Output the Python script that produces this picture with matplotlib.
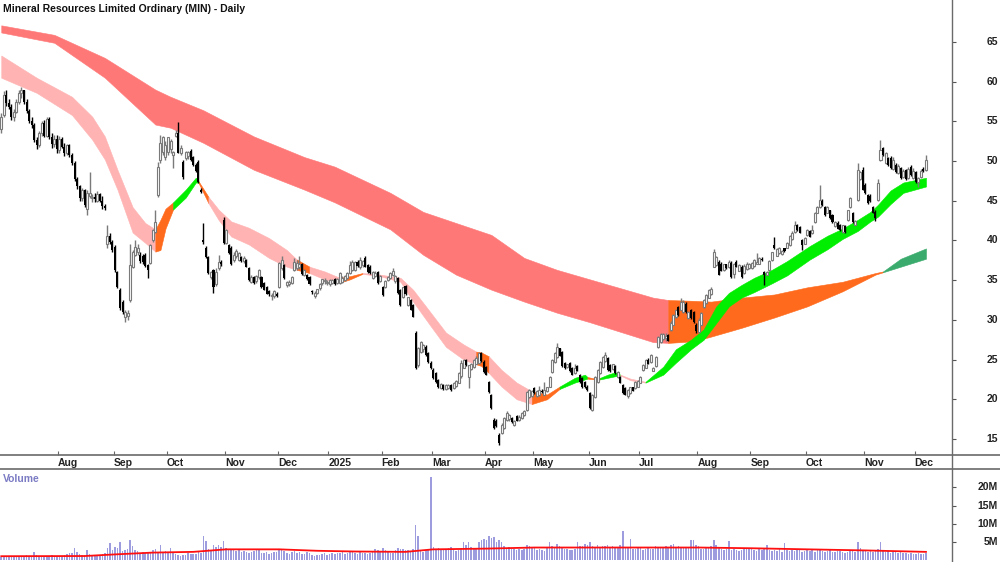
import numpy as np
import pandas as pd
import matplotlib
matplotlib.use('Agg')
import matplotlib.pyplot as plt
from matplotlib.lines import Line2D

plt.rcParams['font.family'] = ['Liberation Sans', 'DejaVu Sans']

title = 'Mineral Resources Limited Ordinary (MIN) - Daily'

# ASX trading calendar
asx_holidays = ['2024-12-25', '2024-12-26', '2025-01-01', '2025-01-27',
                '2025-04-18', '2025-04-21', '2025-04-25', '2025-06-09']
dates = pd.bdate_range('2024-07-01', '2025-12-05')
dates = dates[~dates.isin(pd.to_datetime(asx_holidays))]

# daily candles (open, high, low, close), one list per month
jul24 = [(54.0, 56.0, 53.5, 55.5), (55.8, 58.8, 55.5, 58.3), (58.3, 59.0, 57.0, 57.3), (57.3, 57.8, 56.5, 56.8),
         (56.8, 57.2, 55.2, 55.5), (55.5, 56.5, 55.0, 56.2), (56.2, 57.8, 56.0, 57.5), (57.5, 59.0, 57.2, 58.6),
         (58.6, 59.3, 58.0, 58.9), (58.9, 59.0, 57.2, 57.5), (57.5, 57.8, 56.0, 56.3), (56.3, 56.6, 54.8, 55.0),
         (55.0, 55.5, 54.2, 54.6), (54.6, 54.8, 52.4, 52.6), (52.6, 53.0, 51.5, 52.0), (52.0, 53.8, 51.8, 53.6),
         (53.6, 55.0, 53.2, 54.8), (54.8, 55.2, 53.0, 53.2), (53.2, 55.6, 53.0, 55.3), (55.3, 55.5, 52.8, 53.0),
         (53.0, 53.5, 51.6, 52.2), (52.2, 53.3, 51.8, 52.8), (52.8, 53.3, 51.0, 51.5)]
aug24 = [(51.4, 53.2, 51.0, 52.8), (52.8, 53.0, 51.6, 51.8), (51.8, 52.3, 50.6, 51.0), (51.0, 52.2, 50.8, 52.0),
         (52.0, 52.2, 50.5, 50.8), (50.8, 51.0, 49.5, 49.8), (49.8, 50.0, 47.5, 47.8), (47.8, 48.0, 46.5, 46.8),
         (46.8, 47.0, 45.0, 45.3), (45.3, 46.6, 45.0, 46.3), (46.3, 46.5, 44.2, 44.5), (44.0, 46.3, 43.2, 46.0),
         (45.6, 48.6, 45.3, 46.0), (45.3, 45.8, 44.8, 45.5), (45.5, 46.0, 44.9, 45.2), (45.0, 46.2, 44.8, 45.8),
         (45.8, 46.0, 44.8, 45.0), (45.0, 45.6, 44.0, 44.3), (44.3, 44.6, 43.8, 44.1), (39.5, 42.0, 39.0, 40.6),
         (40.6, 41.0, 39.5, 39.8), (39.8, 40.0, 38.5, 38.8)]
sep24 = [(39.2, 39.4, 36.0, 36.3), (36.0, 36.2, 34.0, 34.2), (33.8, 34.0, 31.3, 31.5), (32.3, 32.5, 30.8, 31.0),
         (30.4, 31.2, 29.7, 31.0), (30.5, 31.3, 30.0, 30.9), (32.5, 39.5, 32.3, 36.9), (36.7, 38.8, 36.5, 38.5),
         (38.2, 40.0, 38.0, 39.2), (38.6, 39.6, 38.2, 39.0), (38.2, 38.5, 37.2, 37.4), (38.0, 38.3, 37.0, 37.3),
         (38.2, 38.4, 36.6, 36.8), (36.9, 37.0, 35.3, 36.3), (37.2, 39.6, 37.0, 39.4), (40.1, 41.5, 39.8, 41.3),
         (41.1, 43.8, 41.0, 42.3), (45.7, 49.9, 45.5, 49.3), (50.1, 53.3, 49.8, 52.3), (51.1, 53.2, 50.8, 53.0),
         (50.5, 52.5, 50.2, 52.0)]
oct24 = [(51.1, 53.0, 50.8, 53.0), (51.5, 52.8, 51.0, 52.5), (50.8, 51.3, 49.1, 51.1), (53.2, 53.9, 53.0, 53.5),
         (53.5, 54.9, 51.0, 51.0), (51.0, 52.0, 50.8, 51.6), (49.9, 50.2, 47.8, 48.0), (50.4, 51.3, 50.2, 51.1),
         (50.6, 51.3, 50.3, 51.1), (51.3, 51.5, 50.0, 50.1), (50.5, 50.7, 49.4, 49.5), (49.5, 49.8, 48.6, 48.7),
         (49.9, 50.2, 47.3, 47.4), (46.4, 46.6, 46.0, 46.1), (40.0, 42.2, 39.6, 39.8), (39.1, 39.3, 37.8, 37.9),
         (37.9, 38.0, 35.8, 35.9), (35.4, 36.2, 35.2, 36.0), (36.3, 36.4, 33.4, 34.1), (34.5, 36.5, 34.3, 36.0),
         (36.5, 38.2, 36.3, 37.3), (37.3, 37.5, 36.8, 37.0), (42.6, 43.0, 39.5, 39.7)]
nov24 = [(39.7, 41.5, 39.5, 41.3), (39.4, 39.6, 38.3, 38.4), (39.1, 39.3, 36.9, 37.0), (37.5, 38.5, 37.3, 38.2),
         (38.0, 38.9, 37.8, 38.7), (37.6, 38.6, 37.4, 38.4), (37.9, 38.0, 37.3, 37.4), (37.4, 38.0, 37.2, 37.8),
         (37.5, 37.7, 36.6, 36.7), (36.5, 36.6, 34.9, 35.0), (34.8, 35.6, 34.6, 35.4), (35.4, 35.5, 34.5, 34.6),
         (34.9, 35.7, 34.7, 35.5), (35.4, 36.4, 35.2, 36.3), (35.4, 35.5, 34.0, 34.1), (34.6, 34.8, 33.7, 33.8),
         (34.1, 34.3, 33.2, 33.3), (33.6, 33.8, 33.0, 33.2), (33.0, 33.4, 32.5, 33.1), (33.0, 33.8, 32.8, 33.6),
         (33.3, 33.5, 32.9, 33.0)]
dec24 = [(34.1, 37.3, 34.0, 37.2), (36.5, 38.0, 36.3, 37.5), (36.9, 37.0, 35.2, 35.3), (34.4, 34.9, 34.2, 34.8),
         (34.5, 35.0, 34.3, 34.8), (34.6, 35.5, 34.5, 35.4), (36.3, 37.8, 36.2, 37.3), (36.5, 37.5, 36.3, 37.2),
         (36.6, 38.0, 36.4, 37.0), (37.0, 37.2, 35.7, 35.8), (35.6, 36.4, 35.5, 36.3), (35.7, 35.8, 35.0, 35.1),
         (35.4, 35.5, 34.4, 34.5), (33.6, 33.7, 33.3, 33.5), (33.0, 33.6, 32.8, 33.4), (33.4, 33.9, 33.2, 33.9),
         (34.0, 34.6, 33.8, 34.5), (34.6, 35.2, 34.4, 35.2), (34.9, 35.3, 34.5, 35.0), (34.6, 35.0, 34.4, 34.8)]
jan25 = [(34.5, 35.2, 34.3, 35.0), (34.6, 35.1, 34.5, 35.0), (35.2, 35.3, 34.4, 34.5), (34.6, 35.3, 34.5, 35.2),
         (34.6, 36.0, 34.5, 35.9), (34.8, 35.5, 34.6, 35.3), (35.0, 35.6, 34.9, 35.5), (35.3, 36.0, 35.2, 35.9),
         (35.9, 37.4, 35.8, 36.9), (36.3, 37.5, 36.1, 37.3), (36.3, 37.4, 36.1, 37.3), (37.3, 37.5, 36.6, 36.8),
         (36.6, 37.9, 36.4, 37.6), (36.9, 37.6, 36.7, 37.4), (37.8, 38.0, 36.6, 36.7), (36.9, 37.1, 35.9, 36.0),
         (36.7, 36.9, 35.8, 35.9), (35.3, 36.1, 35.2, 36.0), (35.5, 36.1, 35.4, 35.9), (36.0, 36.2, 34.5, 34.6),
         (34.9, 35.7, 34.8, 35.5)]
feb25 = [(34.1, 34.3, 33.0, 33.1), (34.1, 35.0, 34.0, 34.9), (35.0, 35.5, 34.9, 35.4), (35.3, 36.0, 35.2, 35.9),
         (35.6, 36.5, 35.5, 36.2), (34.9, 35.7, 34.7, 35.5), (35.3, 35.4, 33.3, 33.4), (33.8, 33.9, 31.8, 31.9),
         (32.9, 34.2, 32.7, 34.1), (34.3, 34.4, 33.1, 33.2), (31.9, 32.9, 31.7, 32.9), (32.5, 32.6, 31.2, 31.3),
         (31.9, 32.0, 30.3, 30.4), (28.4, 28.6, 23.8, 24.0), (24.3, 26.6, 24.1, 26.5), (26.0, 27.3, 25.8, 27.2),
         (26.3, 27.0, 26.0, 26.8), (26.6, 26.8, 25.5, 25.6), (25.8, 26.0, 24.6, 24.7), (24.6, 24.8, 23.8, 23.9)]
mar25 = [(23.7, 23.9, 22.6, 22.7), (23.3, 23.4, 22.1, 22.2), (22.4, 22.5, 21.4, 21.5), (21.4, 22.0, 21.3, 21.9),
         (21.8, 21.9, 21.2, 21.3), (21.3, 21.9, 21.2, 21.8), (21.4, 21.9, 21.3, 21.8), (21.8, 21.9, 21.1, 21.2),
         (21.4, 22.2, 21.3, 22.1), (21.7, 22.4, 21.6, 22.3), (22.1, 23.4, 22.0, 23.3), (22.9, 25.0, 22.7, 24.6),
         (24.0, 25.1, 23.9, 25.0), (25.0, 25.1, 24.2, 24.3), (22.8, 24.3, 21.4, 24.3), (23.8, 24.6, 23.7, 24.5),
         (24.1, 25.1, 24.0, 25.0), (24.5, 25.4, 24.4, 25.2), (24.6, 25.9, 24.5, 25.8), (25.8, 25.9, 24.7, 24.8),
         (24.7, 24.9, 23.3, 23.4)]
apr25 = [(24.1, 24.2, 23.0, 23.1), (22.2, 22.3, 20.8, 20.9), (20.6, 20.7, 18.8, 18.9), (17.4, 17.6, 16.3, 16.4),
         (17.3, 17.5, 16.5, 16.6), (15.5, 15.7, 14.2, 14.5), (15.8, 17.0, 15.6, 16.8), (16.4, 17.8, 16.2, 17.6),
         (17.4, 18.5, 17.3, 18.3), (17.5, 18.2, 17.3, 18.0), (17.6, 17.8, 17.0, 17.1), (16.7, 17.4, 16.6, 17.3),
         (17.9, 18.0, 17.2, 17.3), (17.4, 18.0, 17.3, 17.8), (17.6, 18.4, 17.5, 18.3), (18.0, 18.6, 17.9, 18.5),
         (18.6, 21.0, 18.5, 20.9), (20.3, 21.3, 20.2, 21.2), (20.4, 21.2, 20.3, 21.0)]
may25 = [(21.4, 21.6, 20.7, 20.8), (20.4, 21.2, 20.3, 21.0), (20.5, 21.7, 20.4, 21.2), (21.1, 21.3, 20.8, 20.9),
         (20.6, 22.2, 20.5, 21.2), (21.0, 21.6, 20.9, 21.5), (21.6, 22.9, 21.5, 22.8), (23.4, 25.1, 23.3, 25.0),
         (24.7, 25.9, 24.6, 25.8), (25.3, 27.1, 25.2, 26.6), (26.4, 26.5, 25.4, 25.5), (26.0, 26.1, 24.1, 24.2),
         (24.6, 24.7, 23.8, 23.9), (24.1, 24.5, 24.0, 24.4), (24.6, 24.7, 23.4, 23.5), (24.0, 24.1, 23.0, 23.1),
         (23.3, 24.4, 23.2, 23.9), (24.2, 24.3, 23.5, 23.6), (23.1, 23.2, 22.1, 22.2), (22.7, 22.8, 21.4, 21.5),
         (22.2, 22.3, 21.4, 21.5), (21.6, 21.8, 21.0, 21.2)]
jun25 = [(20.8, 20.9, 18.8, 18.9), (18.7, 20.7, 18.5, 20.6), (20.3, 22.9, 20.2, 22.8), (22.2, 23.8, 22.1, 23.7),
         (23.3, 24.8, 23.2, 24.7), (24.1, 25.4, 24.0, 25.3), (24.8, 26.0, 24.7, 25.6), (25.2, 25.3, 23.6, 23.7),
         (24.3, 24.4, 23.4, 23.5), (23.8, 24.5, 23.7, 24.4), (24.2, 24.3, 23.2, 23.3), (22.8, 23.5, 22.7, 23.4),
         (22.8, 22.9, 22.0, 22.1), (21.8, 21.9, 20.7, 20.8), (21.4, 21.5, 20.5, 20.6), (20.4, 21.3, 20.2, 21.2),
         (20.8, 21.6, 20.7, 21.5), (21.5, 21.6, 21.0, 21.1), (21.4, 22.3, 21.3, 22.2), (21.6, 22.4, 21.5, 22.3)]
jul25 = [(22.1, 22.9, 22.0, 22.8), (23.7, 24.4, 23.6, 24.3), (24.0, 25.1, 23.9, 25.0), (25.0, 25.2, 24.4, 24.5),
         (24.7, 25.7, 24.6, 25.6), (23.6, 24.1, 23.5, 24.0), (24.2, 25.5, 24.1, 25.3), (26.6, 28.0, 26.5, 27.8),
         (27.2, 28.3, 27.1, 28.2), (27.6, 28.3, 27.5, 28.2), (27.7, 28.3, 27.3, 28.0), (28.1, 28.2, 27.3, 27.4),
         (28.7, 29.8, 28.6, 29.6), (29.4, 30.8, 29.3, 30.6), (30.3, 31.4, 30.2, 31.3), (31.6, 31.8, 30.5, 30.6),
         (31.3, 32.8, 31.2, 32.3), (31.0, 32.5, 30.9, 32.2), (32.0, 32.2, 30.9, 31.0), (30.2, 31.1, 30.1, 31.0),
         (31.3, 31.4, 30.1, 30.2), (31.0, 31.1, 29.6, 29.7), (29.4, 29.6, 28.3, 28.6)]
aug25 = [(28.5, 30.2, 28.3, 30.0), (29.4, 31.0, 29.3, 30.9), (31.6, 32.6, 31.5, 32.5), (32.1, 33.2, 32.0, 33.1),
         (32.8, 33.9, 32.7, 33.8), (33.2, 34.2, 33.1, 33.9), (36.7, 38.9, 36.6, 38.6), (36.9, 38.0, 36.8, 37.9),
         (37.3, 37.5, 35.6, 35.7), (37.0, 37.3, 36.1, 36.2), (36.3, 37.1, 36.2, 37.0), (37.0, 37.1, 36.4, 36.5),
         (36.6, 37.5, 36.5, 37.3), (37.2, 37.4, 35.3, 35.4), (35.8, 37.2, 35.3, 37.0), (37.3, 37.5, 36.6, 36.7),
         (36.2, 37.0, 36.1, 36.9), (36.7, 36.9, 35.3, 35.4), (35.9, 37.0, 35.8, 36.8), (36.4, 37.3, 36.3, 37.1),
         (36.5, 37.2, 36.4, 37.0)]
sep25 = [(36.5, 37.3, 36.4, 37.2), (36.8, 37.7, 36.7, 37.5), (37.1, 38.4, 37.0, 37.3), (37.1, 37.9, 37.0, 37.8),
         (37.6, 37.9, 37.4, 37.5), (36.0, 36.2, 34.4, 35.7), (35.7, 36.1, 35.6, 36.0), (36.3, 37.5, 36.2, 37.4),
         (37.5, 38.6, 37.4, 38.5), (39.4, 40.4, 38.9, 39.0), (38.1, 39.0, 38.0, 38.9), (38.4, 39.2, 38.3, 39.0),
         (38.3, 38.8, 38.2, 38.7), (39.0, 39.1, 38.6, 38.7), (39.1, 39.8, 39.0, 39.7), (39.4, 40.7, 39.3, 40.6),
         (40.2, 41.2, 40.1, 41.0), (41.1, 42.5, 41.0, 42.0), (41.9, 42.1, 41.2, 41.3), (41.7, 41.8, 40.9, 41.0),
         (40.1, 40.2, 38.8, 39.4), (39.6, 40.5, 39.5, 40.3)]
oct25 = [(40.7, 41.4, 40.6, 41.3), (41.2, 41.3, 40.4, 40.5), (40.9, 42.0, 40.8, 41.3), (42.3, 43.6, 42.2, 43.5),
         (43.5, 44.3, 43.4, 44.2), (44.2, 47.0, 44.1, 45.1), (45.0, 45.2, 44.4, 44.5), (44.2, 44.3, 43.1, 43.2),
         (43.5, 44.3, 43.4, 44.2), (43.8, 43.9, 42.7, 42.8), (43.2, 43.3, 42.2, 42.3), (41.8, 42.4, 41.7, 42.3),
         (42.2, 42.4, 41.4, 41.5), (42.0, 42.1, 41.2, 41.3), (41.1, 42.0, 41.0, 41.9), (41.8, 41.9, 41.0, 41.1),
         (42.6, 43.9, 42.5, 43.8), (44.2, 45.5, 44.1, 45.4), (43.5, 43.6, 42.2, 42.3), (42.0, 42.6, 41.9, 42.4),
         (45.1, 49.8, 45.0, 48.9), (47.7, 48.8, 47.6, 48.6), (48.9, 49.3, 46.3, 46.4)]
nov25 = [(47.0, 47.2, 45.9, 46.0), (45.7, 45.9, 44.6, 44.7), (45.6, 45.8, 44.8, 45.0), (44.2, 44.4, 43.4, 43.5),
         (43.6, 43.8, 42.5, 42.8), (45.1, 47.8, 45.0, 47.2), (50.1, 52.7, 50.0, 51.4), (51.6, 51.8, 50.7, 50.8),
         (49.8, 51.1, 49.6, 51.0), (50.4, 50.5, 49.4, 49.5), (50.4, 50.6, 49.0, 49.1), (49.0, 50.5, 48.9, 50.2),
         (49.5, 49.7, 48.5, 48.6), (48.5, 49.6, 48.4, 49.4), (49.1, 49.3, 47.8, 47.9), (48.0, 49.0, 47.9, 48.8),
         (48.9, 49.0, 47.6, 47.7), (47.9, 49.2, 47.8, 49.0), (49.3, 49.5, 48.1, 48.2), (47.9, 49.1, 47.8, 48.8)]
dec25 = [(48.6, 48.8, 47.3, 47.4), (47.4, 48.0, 46.7, 47.9), (48.0, 49.0, 47.9, 48.8), (49.0, 49.2, 48.6, 48.7),
         (48.9, 50.8, 48.7, 50.1)]

# daily volume, millions
vol_jul24 = [0.9, 0.8, 1.0, 0.9, 0.8, 1.1, 0.9, 1.0, 0.8, 0.9, 1.2, 1.0, 0.9, 2.1, 1.4, 1.0, 1.1, 0.9, 1.0, 0.8, 1.2, 1.0, 0.9]
vol_aug24 = [1.0, 1.1, 1.3, 1.6, 2.0, 1.8, 3.2, 2.2, 1.6, 1.3, 1.4, 2.6, 1.5, 1.2, 1.1, 1.4, 1.0, 1.6, 1.8, 3.4, 4.6, 2.8]
vol_sep24 = [3.6, 3.2, 4.9, 2.4, 2.8, 3.1, 5.5, 3.9, 2.7, 2.4, 2.0, 2.3, 1.8, 2.2, 1.9, 2.6, 2.9, 2.1, 4.1, 1.9, 2.4]
vol_oct24 = [2.2, 3.3, 2.0, 1.6, 1.2, 1.0, 1.4, 1.3, 1.8, 1.5, 1.6, 1.7, 2.3, 2.0, 6.6, 5.3, 3.0, 2.8, 4.1, 3.5, 4.2, 3.6, 5.2]
vol_nov24 = [3.4, 2.9, 3.1, 2.6, 2.4, 2.8, 2.3, 2.5, 2.2, 1.9, 2.1, 2.4, 2.7, 3.0, 2.0, 1.8, 2.2, 1.6, 1.9, 2.3, 2.1]
vol_dec24 = [3.1, 2.6, 2.4, 2.0, 1.7, 2.2, 2.5, 1.9, 2.3, 1.6, 1.5, 2.1, 1.8, 1.4, 1.1, 1.2, 1.3, 1.5, 1.8, 1.4]
vol_jan25 = [1.6, 1.9, 1.5, 1.8, 2.0, 2.3, 1.7, 1.9, 2.5, 2.2, 1.8, 1.6, 2.1, 1.9, 2.0, 1.7, 1.8, 2.4, 3.0, 2.6, 2.1]
vol_feb25 = [3.2, 2.7, 2.2, 1.9, 2.0, 2.6, 3.4, 2.9, 3.0, 2.8, 2.6, 2.4, 3.1, 9.6, 6.6, 2.5, 2.2, 2.8, 2.9, 22.8]
vol_mar25 = [3.5, 3.1, 3.4, 2.8, 3.0, 2.6, 3.2, 3.5, 2.9, 2.4, 2.7, 3.3, 4.9, 4.2, 4.8, 3.6, 3.1, 2.9, 5.0, 5.4, 5.8]
vol_apr25 = [5.5, 6.6, 5.9, 6.2, 4.8, 5.6, 4.9, 3.8, 3.2, 3.6, 2.9, 3.1, 2.8, 3.0, 2.6, 2.9, 4.1, 3.7, 3.3]
vol_may25 = [3.2, 2.8, 3.0, 2.7, 2.5, 3.4, 4.9, 3.8, 3.6, 4.3, 3.9, 3.3, 2.9, 3.1, 2.6, 2.8, 3.0, 4.9, 3.9, 3.7, 4.4, 4.0]
vol_jun25 = [4.9, 3.8, 3.6, 4.2, 3.4, 3.8, 3.9, 4.2, 3.5, 3.7, 3.6, 3.2, 4.0, 8.0, 3.3, 3.5, 5.8, 3.1, 2.9, 3.2]
vol_jul25 = [3.4, 2.8, 3.1, 3.6, 3.0, 2.9, 3.7, 3.3, 3.5, 3.2, 3.8, 3.4, 4.0, 4.5, 3.6, 3.9, 3.2, 3.6, 3.4, 3.5, 5.5, 5.6, 4.1]
vol_aug25 = [3.8, 3.1, 2.9, 3.4, 3.3, 3.9, 5.5, 4.0, 3.6, 2.9, 2.7, 3.0, 5.2, 2.8, 3.1, 2.6, 2.4, 2.7, 2.9, 3.3, 3.0]
vol_sep25 = [3.0, 2.7, 2.5, 2.9, 2.6, 3.1, 4.1, 2.8, 2.4, 2.7, 2.5, 2.9, 2.3, 4.6, 2.8, 2.5, 2.7, 2.4, 2.6, 2.9, 2.2, 2.5]
vol_oct25 = [2.7, 2.4, 2.6, 2.3, 2.9, 3.1, 2.5, 2.2, 2.4, 2.6, 2.3, 2.1, 2.5, 2.4, 2.2, 2.0, 2.3, 2.6, 2.4, 2.1, 5.0, 3.2, 2.8]
vol_nov25 = [2.6, 2.3, 2.5, 2.1, 2.4, 3.0, 4.8, 2.6, 2.2, 2.4, 2.0, 2.3, 2.1, 1.9, 2.2, 1.8, 2.0, 1.7, 1.9, 1.6]
vol_dec25 = [1.5, 1.8, 1.6, 1.7, 1.9]

# volume average line (bar number, millions)
volma_bar = [0, 33, 45, 60, 76, 89, 110, 125, 140, 160, 171, 192, 211, 253, 276, 297, 319, 342, 366]
volma_val = [1.0, 1.05, 1.5, 2.0, 2.2, 2.9, 2.9, 2.5, 2.3, 2.2, 2.9, 3.1, 3.4, 3.4, 3.4, 3.2, 2.9, 2.6, 2.2]

# short-term ribbon: bar number, upper, lower, trend state of the stretch that follows
short_bar = [0, 14, 28, 36, 41, 46, 52, 57, 61, 63, 65, 68, 73, 77, 78, 82, 86, 91, 98, 106, 113, 117, 122, 128,
             134, 138, 143, 150, 158, 163, 170, 176, 183, 188, 190, 193, 198, 204, 210, 216, 221, 227, 231, 232,
             235, 237, 240, 243, 245, 249, 255, 262, 267, 273, 278, 283, 288, 293, 298, 305, 311, 320, 327, 333,
             339, 344, 347, 352, 357, 366]
short_hi = [63.3, 60.5, 58.1, 55.6, 53.1, 48.9, 44.2, 42.2, 41.4, 42.6, 44.0, 44.8, 46.4, 47.9, 47.5, 45.5, 43.9,
            42.4, 41.6, 40.3, 38.8, 37.6, 36.7, 36.1, 35.3, 35.5, 35.9, 35.7, 35.3, 33.8, 30.9, 28.4, 26.9, 26.0,
            25.9, 25.4, 23.7, 22.1, 21.0, 20.6, 21.6, 22.7, 23.1, 22.8, 22.6, 22.7, 23.1, 23.4, 23.1, 22.6, 22.2,
            24.1, 26.3, 27.5, 28.8, 31.7, 33.4, 34.4, 35.3, 36.3, 37.4, 39.3, 40.6, 41.5, 42.6, 43.6, 44.5, 46.3,
            47.3, 47.9]
short_lo = [60.5, 58.6, 55.8, 52.7, 50.2, 46.4, 41.0, 39.7, 38.6, 38.8, 41.5, 43.9, 45.4, 47.3, 47.3, 44.7, 42.6,
            40.5, 39.5, 37.8, 36.7, 36.3, 35.9, 35.1, 34.7, 35.1, 35.8, 35.5, 34.8, 32.3, 29.2, 26.6, 25.0, 24.4,
            24.2, 23.3, 21.6, 20.0, 19.4, 20.0, 21.3, 22.1, 22.5, 22.6, 22.5, 22.5, 22.7, 22.9, 23.0, 22.4, 22.1,
            23.1, 24.6, 26.3, 27.5, 29.6, 31.7, 32.8, 33.5, 34.6, 35.6, 37.6, 38.9, 40.2, 41.2, 42.4, 43.0, 44.6,
            46.0, 46.8]
short_state = ['bear'] * 8 + ['mixed'] * 3 + ['bull'] * 3 + ['mixed'] + ['bear'] * 6 + ['mixed'] + ['bear'] * 2 \
    + ['mixed'] * 2 + ['bear'] * 7 + ['mixed'] * 2 + ['bear'] * 3 + ['mixed'] * 2 + ['bull'] * 3 \
    + ['mixed'] * 2 + ['bull'] * 3 + ['bear'] * 2 + ['bull'] * 20

# long-term ribbon
long_bar = [0, 21, 41, 61, 67, 80, 100, 120, 132, 154, 167, 180, 194, 207, 220, 233, 258, 264, 274, 281, 293,
            306, 319, 333, 346, 349, 356, 366]
long_hi = [67.1, 65.9, 63.0, 59.0, 58.1, 56.4, 53.1, 50.5, 49.3, 46.0, 43.6, 42.2, 40.7, 37.8, 36.3, 35.1, 32.8,
           32.5, 32.4, 32.3, 32.8, 33.2, 34.1, 34.8, 35.9, 36.1, 37.7, 39.0]
long_lo = [66.2, 64.9, 60.5, 54.6, 54.2, 52.3, 48.9, 46.4, 44.8, 41.4, 38.2, 35.7, 33.8, 32.3, 30.9, 29.7, 27.2,
           27.1, 27.3, 27.9, 29.0, 30.3, 31.7, 33.6, 35.7, 36.0, 36.7, 37.7]
long_state = ['bear'] * 17 + ['mixed'] * 8 + ['bull'] * 3

price_ticks = [15, 20, 25, 30, 35, 40, 45, 50, 55, 60, 65]
vol_ticks = [5, 10, 15, 20]
vol_tick_labels = ['5M', '10M', '15M', '20M']

candles = np.array(jul24 + aug24 + sep24 + oct24 + nov24 + dec24 + jan25 + feb25 + mar25 + apr25 + may25
                   + jun25 + jul25 + aug25 + sep25 + oct25 + nov25 + dec25)
volume = np.array(vol_jul24 + vol_aug24 + vol_sep24 + vol_oct24 + vol_nov24 + vol_dec24 + vol_jan25 + vol_feb25
                  + vol_mar25 + vol_apr25 + vol_may25 + vol_jun25 + vol_jul25 + vol_aug25 + vol_sep25 + vol_oct25
                  + vol_nov25 + vol_dec25)
assert len(candles) == len(dates) == len(volume)

short_cols = {'bear': '#ffb3b3', 'mixed': '#ff6a1c', 'bull': '#00ee00'}
long_cols = {'bear': '#ff7878', 'mixed': '#ff6a1c', 'bull': '#3aab6c'}
fs = 7.5
label_x = 998 / 952   # right edge of the value labels, in axes fraction


def draw_ribbon(ax, bars, hi, lo, state, palette):
    bars, hi, lo = np.asarray(bars), np.asarray(hi), np.asarray(lo)
    start = 0
    n = len(bars)
    for i in range(1, n):
        if i == n - 1 or state[i] != state[start]:
            seg = slice(start, i + 1)
            col = palette[state[start]]
            ax.fill_between(bars[seg], lo[seg], hi[seg], facecolor=col, edgecolor=col, lw=0.4, zorder=1)
            start = i


def right_labels(a, ticks, labels):
    # short tick marks outside the frame, labels right-aligned near the figure edge
    a.yaxis.tick_right()
    a.set_yticks(ticks)
    a.tick_params(axis='y', direction='out', length=3, width=0.8, color='#555555', labelright=False)
    for v, s in zip(ticks, labels):
        a.text(label_x, v, s, transform=a.get_yaxis_transform(), ha='right', va='center',
               fontsize=fs, fontweight='bold', color='#222222', clip_on=False)


fig = plt.figure(figsize=(10, 5.62), dpi=100)
ax = fig.add_axes([0, 1 - 455 / 562, 0.952, 455 / 562])
axv = fig.add_axes([0, 0, 0.952, 93 / 562])

x = np.arange(len(dates))
o, h, l, c = candles.T
up = c >= o

draw_ribbon(ax, long_bar, long_hi, long_lo, long_state, long_cols)
draw_ribbon(ax, short_bar, short_hi, short_lo, short_state, short_cols)

ax.vlines(x[up], l[up], h[up], color='#7a7a7a', lw=1.0, zorder=3)
ax.vlines(x[~up], l[~up], h[~up], color='black', lw=1.0, zorder=3)
body_lo = np.minimum(o, c)
body_h = np.maximum(np.abs(c - o), 0.15)
ax.bar(x[up], body_h[up], bottom=body_lo[up], width=0.8, facecolor='white', edgecolor='#7a7a7a',
       lw=0.8, zorder=4)
ax.bar(x[~up], body_h[~up], bottom=body_lo[~up], width=0.8, color='black', lw=0, zorder=4)

# volume pane
axv.bar(x, volume, width=0.62, color='#9c9cdf', lw=0, zorder=2)
axv.plot(volma_bar, volma_val, color='#ff1010', lw=1.3, zorder=3)

xlim = (-0.5, 376.3)
ax.set_xlim(*xlim)
axv.set_xlim(*xlim)
ax.set_ylim(12.98, 70.29)
axv.set_ylim(-0.6, 25.1)

for a in (ax, axv):
    for s in a.spines.values():
        s.set_visible(False)

right_labels(ax, price_ticks, [str(v) for v in price_ticks])
right_labels(axv, vol_ticks, vol_tick_labels)
axv.set_xticks([])

# month ticks
month_start = np.flatnonzero(np.r_[True, dates.month[1:] != dates.month[:-1]])[1:]
month_lbl = ['2025' if d.month == 1 else d.strftime('%b') for d in dates[month_start]]
ax.set_xticks(month_start - 0.5)
ax.set_xticklabels(month_lbl)
ax.tick_params(axis='x', direction='in', length=3, width=0.8, color='#666666', pad=2.5,
               labelsize=fs, labelcolor='#222222')
for tk in ax.xaxis.get_major_ticks():
    tk.label1.set_horizontalalignment('left')
    tk.label1.set_fontweight('bold')

# frame lines
line_col = '#6a6a6a'
fig.add_artist(Line2D([0, 1], [1 - 455 / 562] * 2, transform=fig.transFigure, color=line_col, lw=1.2))
fig.add_artist(Line2D([0, 1], [1 - 469 / 562] * 2, transform=fig.transFigure, color=line_col, lw=1.2))
fig.add_artist(Line2D([0.9515, 0.9515], [0, 1], transform=fig.transFigure, color=line_col, lw=1.0))

fig.text(0.003, 1 - 9 / 562, title, fontsize=fs, fontweight='bold', va='center', color='#111111')
fig.text(0.003, 1 - 479 / 562, 'Volume', fontsize=fs, fontweight='bold', va='center', color='#7b7bc4')

fig.savefig('out.png', dpi=100)
